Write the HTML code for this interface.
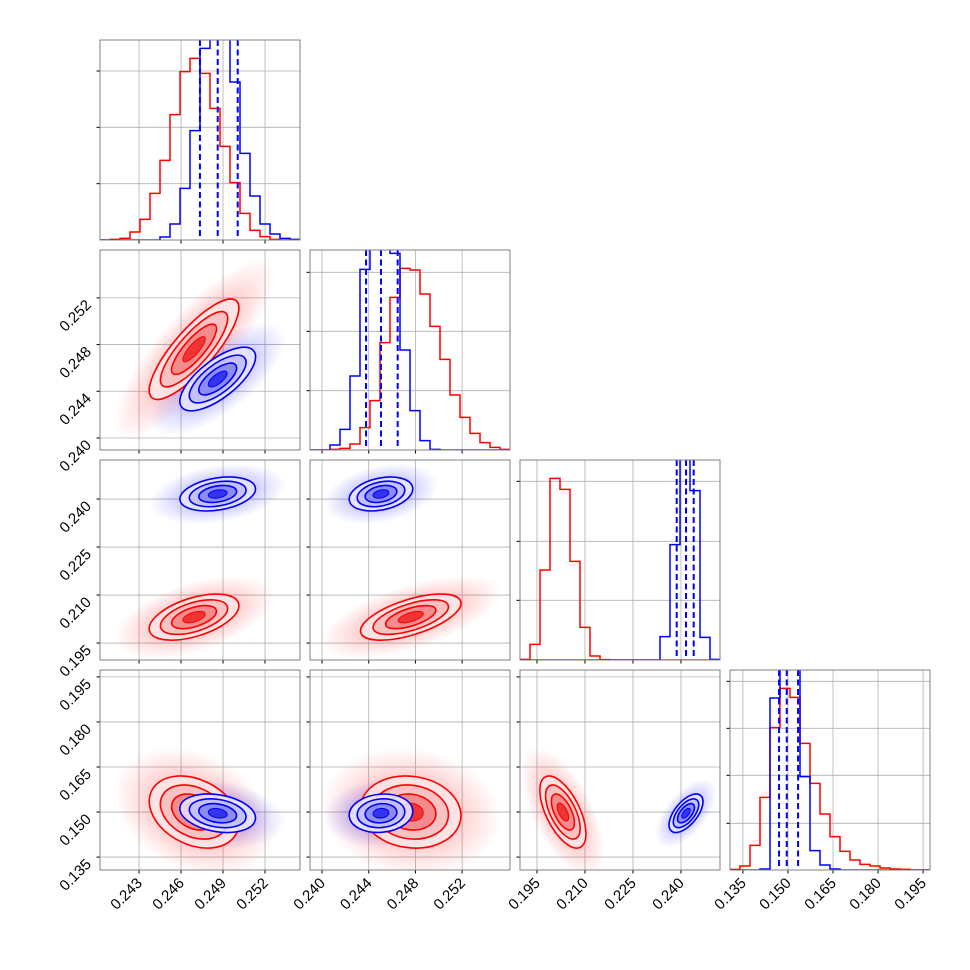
<!DOCTYPE html>
<html><head><meta charset="utf-8"><style>
html,body{margin:0;padding:0;background:#fff;}
svg{display:block;font-family:"Liberation Sans","DejaVu Sans",sans-serif;}
</style></head><body>
<svg id="fig" width="970" height="970" viewBox="0 0 970 970">
<defs>
<radialGradient id="gred"><stop offset="0" stop-color="#ff0000" stop-opacity="0.4"/><stop offset="0.6" stop-color="#ff0000" stop-opacity="0.16"/><stop offset="1" stop-color="#ff0000" stop-opacity="0"/></radialGradient>
<radialGradient id="gblue"><stop offset="0" stop-color="#0000ff" stop-opacity="0.4"/><stop offset="0.6" stop-color="#0000ff" stop-opacity="0.16"/><stop offset="1" stop-color="#0000ff" stop-opacity="0"/></radialGradient>
</defs>
</svg>
<script>
// ---- data ----
const paramRanges = [[0.24021,0.25450],[0.23897,0.25610],[0.1897,0.2522],[0.1307,0.1973]];
const paramTicks = [[0.243,0.246,0.249,0.252],[0.240,0.244,0.248,0.252],[0.195,0.210,0.225,0.240],[0.135,0.150,0.165,0.180,0.195]];
const tickLabels = [["0.243","0.246","0.249","0.252"],["0.240","0.244","0.248","0.252"],["0.195","0.210","0.225","0.240"],["0.135","0.150","0.165","0.180","0.195"]];
const histRed0 = [0,2,5,24,62,140,239,376,505,545,500,395,281,172,80,29,10,2,0,0];
const histBlue0 = [0,0,0,0,0,0,9,48,155,328,575,700,690,474,260,132,48,18,5,2];
const histRed1 = [0,0,2,5,18,67,148,322,458,545,540,468,371,272,165,98,50,22,8,2];
const histBlue1 = [0,0,15,62,222,542,700,720,590,300,118,28,2,0,0,0,0,0,0,0];
const histRed2 = [2,47,270,545,512,296,98,12,1,0,0,0,0,0,0,0,0,0,0,0];
const histBlue2 = [0,0,0,0,0,0,0,0,0,0,0,0,0,0,70,346,700,508,68,2];
const histRed3 = [2,12,74,218,427,545,518,380,260,168,100,56,30,17,12,6,3,2,0,0];
const histBlue3 = [0,0,0,3,516,700,690,280,58,15,3,0,0,0,0,0,0,0,0,0];
const histsRed = [histRed0,histRed1,histRed2,histRed3];
const histsBlue = [histBlue0,histBlue1,histBlue2,histBlue3];
const histMax = 600;
const diagTicks = [[169,338,507],[178,356,533],[179,356,536],[140,284,425,566]];
const blueQuantiles = [[0.24735,0.24862,0.25005],[0.24377,0.24505,0.24648],[0.23867,0.24158,0.24398],[0.14703,0.14960,0.15337]];
const redMean = [0.24693,0.24760,0.2031,0.1500];
const redSigma = [0.00160,0.00215,0.0036,0.0060];
const blueMean = [0.24862,0.24505,0.24158,0.1496];
const blueSigma = [0.00135,0.00136,0.00265,0.0032];
const redCorr = {"1,0":0.82,"2,0":0.5,"2,1":0.6,"3,0":-0.3,"3,1":-0.1,"3,2":-0.6};
const blueCorr = {"1,0":0.7,"2,0":0.3,"2,1":0.3,"3,0":-0.25,"3,1":0.1,"3,2":0.6};

// ---- layout ----
const NS="http://www.w3.org/2000/svg";
const svg=document.getElementById('fig');
const P0X=100,P0Y=40,STEP=210,SZ=200;
function mk(tag,attrs,parent){const e=document.createElementNS(NS,tag);for(const k in attrs)e.setAttribute(k,attrs[k]);(parent||svg).appendChild(e);return e;}
function xs(p,col,v){const r=paramRanges[p];return P0X+STEP*col+(v-r[0])/(r[1]-r[0])*SZ;}
function ys(p,row,v){const r=paramRanges[p];return P0Y+STEP*row+SZ-(v-r[0])/(r[1]-r[0])*SZ;}
function hy(row,c){return P0Y+STEP*row+SZ-c/histMax*SZ;}

const cols={red:"#ff0000",blue:"#0000ff"};
const fills={red:["#fde6e6","#f8c0c0","#f28686","#ee2a2a"],blue:["#e6e6fd","#c0c0f8","#8686f2","#2a2aee"]};

for(let row=0;row<4;row++){
 for(let col=0;col<=row;col++){
  const x0=P0X+STEP*col,y0=P0Y+STEP*row;
  const g=mk('g',{});
  
  
  const cid='clip'+row+col;
  const cp=mk('clipPath',{id:cid},g);mk('rect',{x:x0,y:y0,width:SZ,height:SZ},cp);
  const grid=mk('g',{stroke:'#b0b0b0','stroke-width':0.8},g);
  
  
  paramTicks[col].forEach(v=>{const x=xs(col,col,v);if(x>x0&&x<x0+SZ){mk('line',{x1:x,x2:x,y1:y0,y2:y0+SZ},grid);mk('line',{x1:x,x2:x,y1:y0+SZ,y2:y0+SZ+3.5,stroke:'#000'},g);}});
  if(row===col){
   diagTicks[row].forEach(c=>{const y=hy(row,c);mk('line',{x1:x0,x2:x0+SZ,y1:y,y2:y},grid);mk('line',{x1:x0-3.5,x2:x0,y1:y,y2:y,stroke:'#000'},g);});
   const body=mk('g',{'clip-path':'url(#'+cid+')'},g);
   [['red',histsRed[row]],['blue',histsBlue[row]]].forEach(([cn,h])=>{
    let d='M'+x0+','+hy(row,0);
    for(let k=0;k<h.length;k++){const xa=x0+k*SZ/h.length,xb=x0+(k+1)*SZ/h.length;d+=' L'+xa+','+hy(row,h[k])+' L'+xb+','+hy(row,h[k]);}
    d+=' L'+(x0+SZ)+','+hy(row,0);
    const p=mk('path',{d:d,fill:'none',stroke:cols[cn],'stroke-width':1.5},body);
    
    
   });
   blueQuantiles[row].forEach(v=>{const x=xs(row,col,v);const l=mk('line',{x1:x,x2:x,y1:y0,y2:y0+SZ,stroke:'#0000ff','stroke-width':2,'stroke-dasharray':'6,3.5'},body);
    
    });
  } else {
   paramTicks[row].forEach(v=>{const y=ys(row,row,v);if(y>y0&&y<y0+SZ){mk('line',{x1:x0,x2:x0+SZ,y1:y,y2:y},grid);mk('line',{x1:x0-3.5,x2:x0,y1:y,y2:y,stroke:'#000'},g);}});
   const body=mk('g',{'clip-path':'url(#'+cid+')'},g);
   const key=row+','+col;
   const series=[['red',redMean,redSigma,redCorr[key]],['blue',blueMean,blueSigma,blueCorr[key]]];
   const shapes=series.map(([cn,m,s,rho])=>{
    const rx=paramRanges[col],ry=paramRanges[row];
    const sx=s[col]/(rx[1]-rx[0])*SZ,sy=s[row]/(ry[1]-ry[0])*SZ;
    const a=sx*sx,b=sy*sy,c=-rho*sx*sy;
    const th=0.5*Math.atan2(2*c,a-b);
    const mid=(a+b)/2,dd=Math.sqrt(((a-b)/2)**2+c*c);
    return {cn:cn,cx:xs(col,col,m[col]),cy:ys(row,row,m[row]),r1:Math.sqrt(mid+dd),r2:Math.sqrt(Math.max(mid-dd,0.5)),ang:th*180/Math.PI};
   });
   shapes.forEach(s=>{const e=mk('ellipse',{cx:0,cy:0,rx:s.r1*3.6,ry:s.r2*3.6,fill:'url(#g'+s.cn+')',transform:'translate('+s.cx+','+s.cy+') rotate('+s.ang+')'},body);
    
    });
   shapes.forEach(s=>{
    const gg=mk('g',{transform:'translate('+s.cx+','+s.cy+') rotate('+s.ang+')'},body);
    
    
    [2,1.5,1,0.5].forEach((k,i)=>{mk('ellipse',{cx:0,cy:0,rx:s.r1*k,ry:s.r2*k,fill:fills[s.cn][i],'fill-opacity':0.9,stroke:cols[s.cn],'stroke-width':i===3?1:1.6},gg);});
   });
  }
  const fr=mk('rect',{x:x0,y:y0,width:SZ,height:SZ,fill:'none',stroke:'#808080','stroke-width':1},g);
  
  
 }
}
for(let col=0;col<4;col++){
 paramTicks[col].forEach((v,i)=>{const x=xs(col,col,v),y=P0Y+STEP*3+SZ+8;
  const t=mk('text',{x:x+4,y:y+6,'font-size':15,'text-anchor':'end',transform:'rotate(-45 '+(x+4)+' '+(y+6)+')'});
  t.textContent=tickLabels[col][i];
  
  });
}
for(let row=1;row<4;row++){
 paramTicks[row].forEach((v,i)=>{const y=ys(row,row,v),x=P0X-8;
  const t=mk('text',{x:x,y:y+8,'font-size':15,'text-anchor':'end',transform:'rotate(-45 '+x+' '+(y+8)+')'});
  t.textContent=tickLabels[row][i];
  
  });
}
</script>
</body></html>
